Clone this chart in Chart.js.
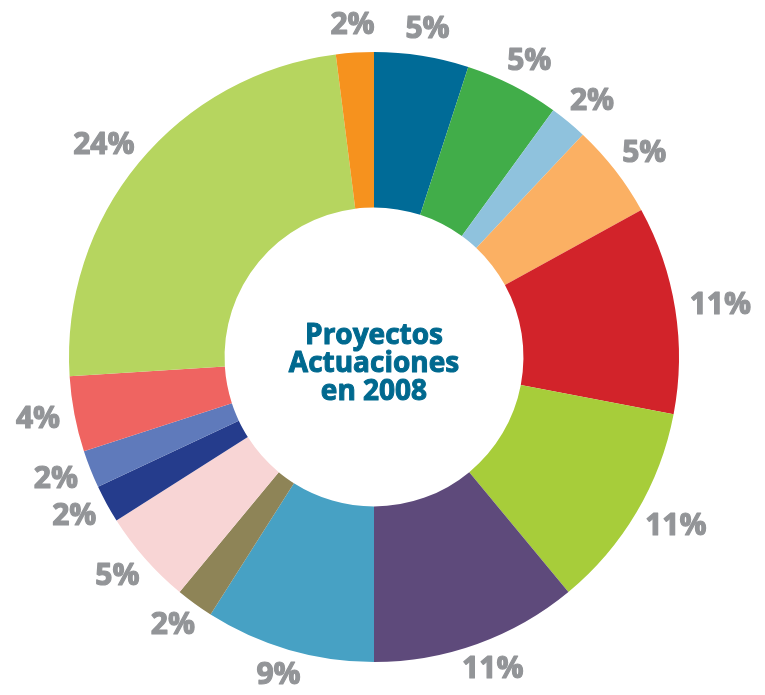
<!DOCTYPE html>
<html lang="es">
<head>
    <meta charset="UTF-8">
    <title>Proyectos Actuaciones en 2008</title>
    <script src="https://cdn.jsdelivr.net/npm/chart.js"></script>
    <style>
        body {
            margin: 0;
            background: #ffffff;
        }
        #wrap {
            width: 765px;
            height: 695px;
            position: relative;
        }
    </style>
</head>
<body>
    <div id="wrap">
        <canvas id="donut"></canvas>
    </div>

    <script>
        // porcentajes por segmento, en sentido horario desde arriba
        const values = [5, 5, 2, 5, 11, 11, 11, 9, 2, 5, 2, 2, 4, 24, 2];
        const labels = values.map(v => v + '%');
        const colors = [
            '#006b97', '#41ad49', '#8fc2dd', '#fbb063', '#d2232a',
            '#a7cd3a', '#5e4a7b', '#47a1c4', '#8e8457', '#f8d5d5',
            '#253c8c', '#5f7abb', '#ef6461', '#b6d55f', '#f6921e'
        ];
        const centerLines = ['Proyectos', 'Actuaciones', 'en 2008'];

        const labelFont = 'bold 30px "Open Sans", sans-serif';
        const labelColor = '#939598';

        // etiquetas de porcentaje fuera del anillo
        const outsideLabels = {
            id: 'outsideLabels',
            afterDraw(chart) {
                const ctx = chart.ctx;
                const meta = chart.getDatasetMeta(0);
                ctx.save();
                ctx.font = labelFont;
                ctx.fillStyle = labelColor;
                ctx.strokeStyle = labelColor;
                ctx.lineWidth = 1.2;
                ctx.lineJoin = 'round';
                ctx.textAlign = 'center';
                ctx.textBaseline = 'middle';
                meta.data.forEach((arc, i) => {
                    const a = (arc.startAngle + arc.endAngle) / 2;
                    const dx = Math.cos(a), dy = Math.sin(a);
                    const text = labels[i];
                    const halfW = ctx.measureText(text).width / 2;
                    const halfH = 12;
                    const r = arc.outerRadius + 15;
                    const x = arc.x + r * dx + dx * halfW;
                    const y = arc.y + r * dy + dy * halfH;
                    ctx.fillText(text, x, y);
                    ctx.strokeText(text, x, y);
                });
                ctx.restore();
            }
        };

        // texto central
        const centerText = {
            id: 'centerText',
            afterDraw(chart) {
                const ctx = chart.ctx;
                const arc = chart.getDatasetMeta(0).data[0];
                ctx.save();
                ctx.font = 'bold 28px "Open Sans", sans-serif';
                ctx.fillStyle = '#00698f';
                ctx.strokeStyle = '#00698f';
                ctx.lineWidth = 1;
                ctx.lineJoin = 'round';
                ctx.textAlign = 'center';
                ctx.textBaseline = 'alphabetic';
                const lh = 28;
                const base = arc.y - 13;
                centerLines.forEach((t, i) => {
                    ctx.fillText(t, arc.x, base + i * lh);
                    ctx.strokeText(t, arc.x, base + i * lh);
                });
                ctx.restore();
            }
        };

        new Chart(document.getElementById('donut'), {
            type: 'doughnut',
            data: {
                labels: labels,
                datasets: [{
                    data: values,
                    backgroundColor: colors,
                    borderWidth: 0
                }]
            },
            options: {
                responsive: true,
                maintainAspectRatio: false,
                animation: false,
                cutout: '49%',
                layout: {
                    padding: { left: 69, right: 86, top: 52, bottom: 33 }
                },
                plugins: {
                    legend: { display: false },
                    tooltip: { enabled: false }
                }
            },
            plugins: [outsideLabels, centerText]
        });
    </script>
</body>
</html>
